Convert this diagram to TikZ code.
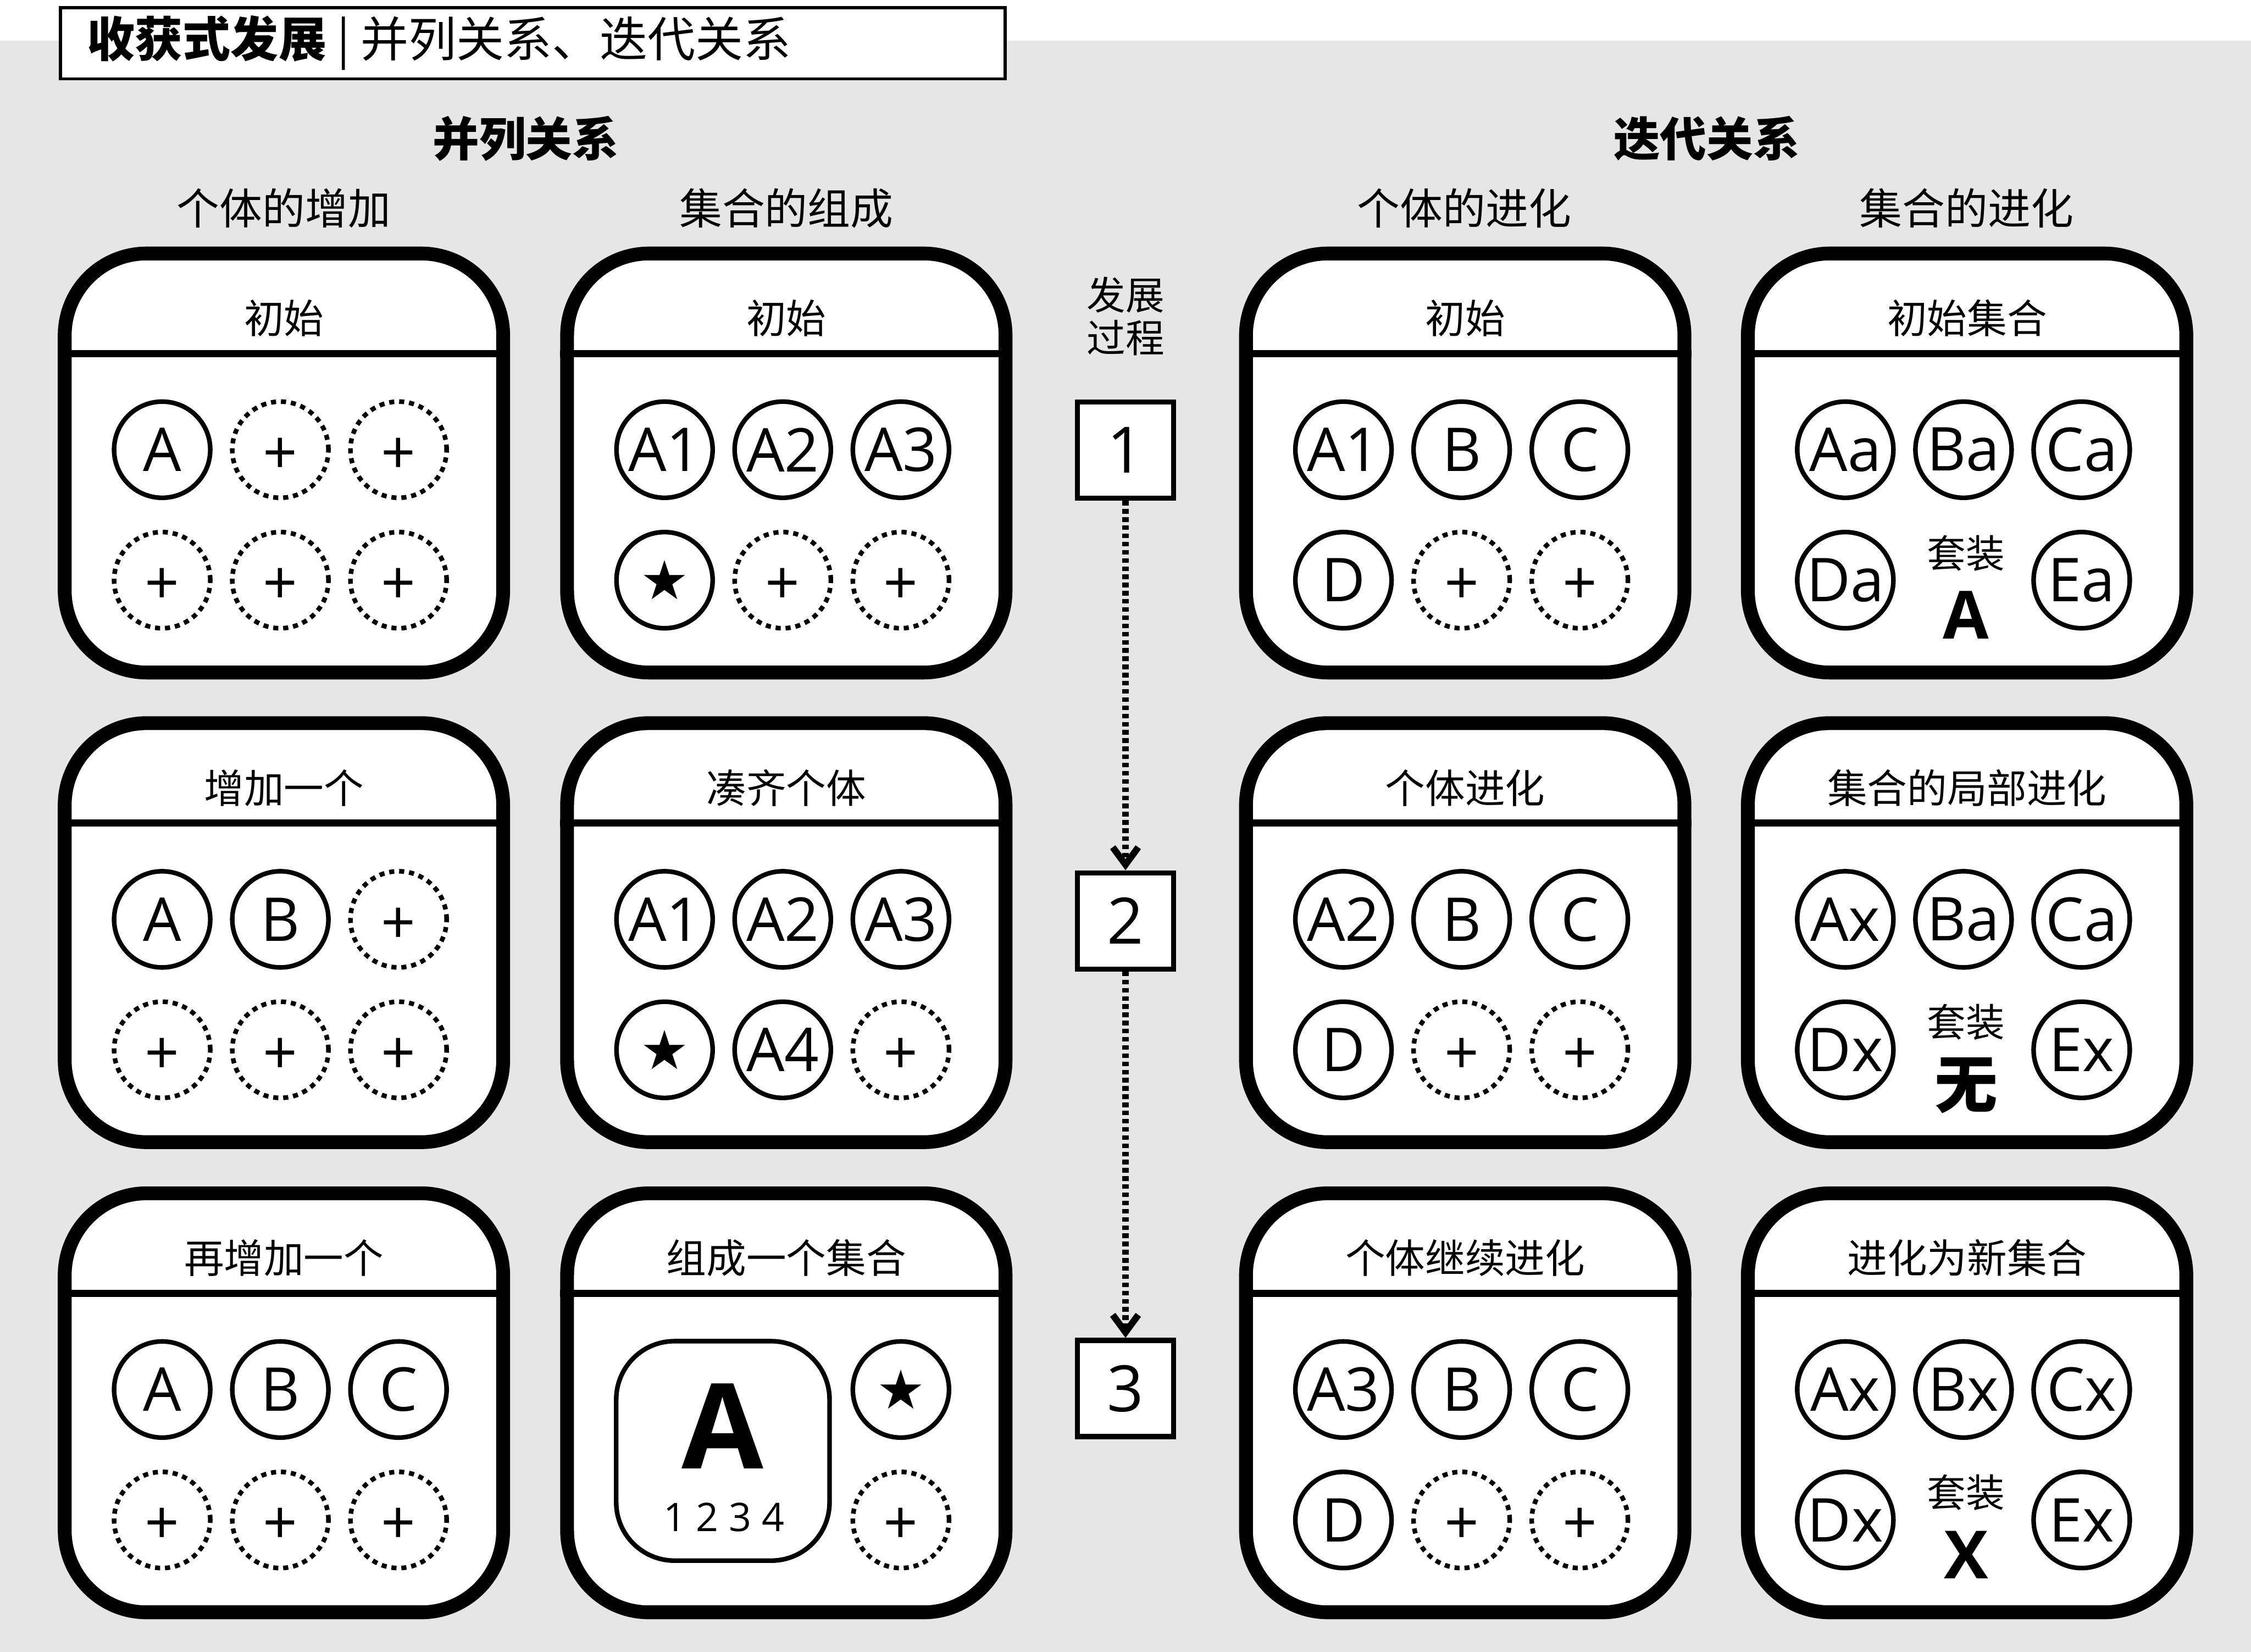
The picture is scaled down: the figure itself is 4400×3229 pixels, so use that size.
\documentclass[tikz,border=0pt]{standalone}
\usepackage{fontspec}
\setmainfont{Open Sans}
\newfontfamily\cjk{Noto Sans CJK SC}
\newfontfamily\symb{DejaVu Sans}
\usepackage{tikz}
\usetikzlibrary{arrows.meta,positioning,calc}
\definecolor{bggray}{HTML}{E6E6E6}

\begin{document}
\begin{tikzpicture}[x=0.1mm, y=-0.1mm,
    card/.style={rectangle, draw=black, line width=2.7mm, rounded corners=16mm, fill=white, minimum width=85.7mm, minimum height=81.9mm, inner sep=0pt},
    hline/.style={line width=1.4mm},
    ttl/.style={inner sep=0pt, font=\cjk\fontsize{22.2pt}{26pt}\selectfont},
    item/.style={circle, draw=black, line width=0.9mm, minimum size=18.8mm, inner sep=0pt, font=\fontsize{33.6pt}{40pt}\selectfont},
    slot/.style={item, dash pattern=on 1mm off 0.95mm, text height=27pt, text depth=0pt},
    star/.style={item, font=\symb\fontsize{30pt}{34pt}\selectfont},
    hdr/.style={inner sep=0pt, font=\cjk\bfseries\fontsize{25.9pt}{30pt}\selectfont},
    subhdr/.style={inner sep=0pt, font=\cjk\fontsize{23.8pt}{28pt}\selectfont},
    stepbox/.style={rectangle, draw=black, line width=1mm, fill=white, minimum size=18.8mm, inner sep=0pt, font=\fontsize{35.6pt}{40pt}\selectfont},
    flow/.style={-{Straight Barb[length=3.4mm, width=5mm]}, line width=1.3mm, dash pattern=on 0.9mm off 0.7mm},
    suit/.style={inner sep=0pt, font=\cjk\fontsize{21.6pt}{26pt}\selectfont},
    suitname/.style={inner sep=0pt, font=\bfseries\fontsize{37pt}{42pt}\selectfont}]

% Canvas: white strip on top, grey below
\useasboundingbox (0,0) rectangle (4400,3229);
\fill[white] (0,0) rectangle (4400,3229);
\fill[bggray] (0,80) rectangle (4400,3229);

% Title bar
\node[rectangle, draw=black, line width=0.6mm, fill=white, minimum width=184.7mm, minimum height=13.9mm] (titlebox) at (1041.5, 84.5) {};
\node[anchor=west, inner sep=0pt, font=\cjk\fontsize{26.6pt}{30pt}\selectfont] (titletext) at (170, 84) {\textbf{收获式发展} | 并列关系、迭代关系};

% Group headings
\node[hdr] (parhdr) at (1028, 271) {并列关系};
\node[hdr] (iterhdr) at (3336, 271) {迭代关系};
\node[subhdr] (sub1) at (555, 407) {个体的增加};
\node[subhdr] (sub2) at (1537, 407) {集合的组成};
\node[subhdr] (sub3) at (2862, 407) {个体的进化};
\node[subhdr] (sub4) at (3844, 407) {集合的进化};

% Middle column: development steps
\node[inner sep=0pt, align=center, font=\cjk\fontsize{21.6pt}{23.9pt}\selectfont] (proc) at (2200, 618) {发展\\过程};
\node[stepbox] (s1) at (2200, 880) {1};
\node[stepbox] (s2) at (2200, 1800) {2};
\node[stepbox] (s3) at (2200, 2714) {3};
\draw[flow] (s1) -- (s2);
\draw[flow] (s2) -- (s3);

% ---- Column 1: individual added ----
\node[card] (k11) at (555, 905) {};
\draw[hline] ([yshift=-20.9mm]k11.north west) -- ([yshift=-20.9mm]k11.north east);
\node[ttl] (k11t) at (555, 622) {初始};
\node[item] (k11a) at (317, 879) {A};
\node[slot] (k11b) at (548, 879) {+};
\node[slot] (k11c) at (779, 879) {+};
\node[slot] (k11d) at (317, 1134) {+};
\node[slot] (k11e) at (548, 1134) {+};
\node[slot] (k11f) at (779, 1134) {+};

\node[card] (k12) at (555, 1823) {};
\draw[hline] ([yshift=-20.9mm]k12.north west) -- ([yshift=-20.9mm]k12.north east);
\node[ttl] (k12t) at (555, 1540) {增加一个};
\node[item] (k12a) at (317, 1797) {A};
\node[item] (k12b) at (548, 1797) {B};
\node[slot] (k12c) at (779, 1797) {+};
\node[slot] (k12d) at (317, 2052) {+};
\node[slot] (k12e) at (548, 2052) {+};
\node[slot] (k12f) at (779, 2052) {+};

\node[card] (k13) at (555, 2742) {};
\draw[hline] ([yshift=-20.9mm]k13.north west) -- ([yshift=-20.9mm]k13.north east);
\node[ttl] (k13t) at (555, 2459) {再增加一个};
\node[item] (k13a) at (317, 2716) {A};
\node[item] (k13b) at (548, 2716) {B};
\node[item] (k13c) at (779, 2716) {C};
\node[slot] (k13d) at (317, 2971) {+};
\node[slot] (k13e) at (548, 2971) {+};
\node[slot] (k13f) at (779, 2971) {+};

% ---- Column 2: set assembled ----
\node[card] (k21) at (1537, 905) {};
\draw[hline] ([yshift=-20.9mm]k21.north west) -- ([yshift=-20.9mm]k21.north east);
\node[ttl] (k21t) at (1537, 622) {初始};
\node[item] (k21a) at (1299, 879) {A1};
\node[item] (k21b) at (1530, 879) {A2};
\node[item] (k21c) at (1761, 879) {A3};
\node[star] (k21d) at (1299, 1134) {★};
\node[slot] (k21e) at (1530, 1134) {+};
\node[slot] (k21f) at (1761, 1134) {+};

\node[card] (k22) at (1537, 1823) {};
\draw[hline] ([yshift=-20.9mm]k22.north west) -- ([yshift=-20.9mm]k22.north east);
\node[ttl] (k22t) at (1537, 1540) {凑齐个体};
\node[item] (k22a) at (1299, 1797) {A1};
\node[item] (k22b) at (1530, 1797) {A2};
\node[item] (k22c) at (1761, 1797) {A3};
\node[star] (k22d) at (1299, 2052) {★};
\node[item] (k22e) at (1530, 2052) {A4};
\node[slot] (k22f) at (1761, 2052) {+};

\node[card] (k23) at (1537, 2742) {};
\draw[hline] ([yshift=-20.9mm]k23.north west) -- ([yshift=-20.9mm]k23.north east);
\node[ttl] (k23t) at (1537, 2459) {组成一个集合};
\node[rectangle, draw=black, line width=0.9mm, rounded corners=11.4mm, minimum width=41.7mm, minimum height=42.9mm] (bundle) at (1413, 2836) {};
\node[inner sep=0pt, font=\bfseries\fontsize{66pt}{70pt}\selectfont] (bundleA) at (1413, 2788) {A};
\node[inner sep=0pt, font=\fontsize{21.9pt}{26pt}\selectfont] (bundlenum) at (1415, 2966) {1 2 3 4};
\node[star] (k23d) at (1761, 2716) {★};
\node[slot] (k23f) at (1761, 2971) {+};

% ---- Column 3: individual evolves ----
\node[card] (k31) at (2864, 905) {};
\draw[hline] ([yshift=-20.9mm]k31.north west) -- ([yshift=-20.9mm]k31.north east);
\node[ttl] (k31t) at (2864, 622) {初始};
\node[item] (k31a) at (2626, 879) {A1};
\node[item] (k31b) at (2857, 879) {B};
\node[item] (k31c) at (3088, 879) {C};
\node[item] (k31d) at (2626, 1134) {D};
\node[slot] (k31e) at (2857, 1134) {+};
\node[slot] (k31f) at (3088, 1134) {+};

\node[card] (k32) at (2864, 1823) {};
\draw[hline] ([yshift=-20.9mm]k32.north west) -- ([yshift=-20.9mm]k32.north east);
\node[ttl] (k32t) at (2864, 1540) {个体进化};
\node[item] (k32a) at (2626, 1797) {A2};
\node[item] (k32b) at (2857, 1797) {B};
\node[item] (k32c) at (3088, 1797) {C};
\node[item] (k32d) at (2626, 2052) {D};
\node[slot] (k32e) at (2857, 2052) {+};
\node[slot] (k32f) at (3088, 2052) {+};

\node[card] (k33) at (2864, 2742) {};
\draw[hline] ([yshift=-20.9mm]k33.north west) -- ([yshift=-20.9mm]k33.north east);
\node[ttl] (k33t) at (2864, 2459) {个体继续进化};
\node[item] (k33a) at (2626, 2716) {A3};
\node[item] (k33b) at (2857, 2716) {B};
\node[item] (k33c) at (3088, 2716) {C};
\node[item] (k33d) at (2626, 2971) {D};
\node[slot] (k33e) at (2857, 2971) {+};
\node[slot] (k33f) at (3088, 2971) {+};

% ---- Column 4: set evolves ----
\node[card] (k41) at (3845, 905) {};
\draw[hline] ([yshift=-20.9mm]k41.north west) -- ([yshift=-20.9mm]k41.north east);
\node[ttl] (k41t) at (3845, 622) {初始集合};
\node[item] (k41a) at (3607, 879) {Aa};
\node[item] (k41b) at (3838, 879) {Ba};
\node[item] (k41c) at (4069, 879) {Ca};
\node[item] (k41d) at (3607, 1134) {Da};
\node[item] (k41e) at (4069, 1134) {Ea};
\node[suit] (k41s) at (3843, 1081) {套装};
\node[suitname] (k41n) at (3843, 1202) {A};

\node[card] (k42) at (3845, 1823) {};
\draw[hline] ([yshift=-20.9mm]k42.north west) -- ([yshift=-20.9mm]k42.north east);
\node[ttl] (k42t) at (3845, 1540) {集合的局部进化};
\node[item] (k42a) at (3607, 1797) {Ax};
\node[item] (k42b) at (3838, 1797) {Ba};
\node[item] (k42c) at (4069, 1797) {Ca};
\node[item] (k42d) at (3607, 2052) {Dx};
\node[item] (k42e) at (4069, 2052) {Ex};
\node[suit] (k42s) at (3843, 1998) {套装};
\node[inner sep=0pt, font=\cjk\bfseries\fontsize{35pt}{40pt}\selectfont] (k42n) at (3843, 2122) {无};

\node[card] (k43) at (3845, 2742) {};
\draw[hline] ([yshift=-20.9mm]k43.north west) -- ([yshift=-20.9mm]k43.north east);
\node[ttl] (k43t) at (3845, 2459) {进化为新集合};
\node[item] (k43a) at (3607, 2716) {Ax};
\node[item] (k43b) at (3838, 2716) {Bx};
\node[item] (k43c) at (4069, 2716) {Cx};
\node[item] (k43d) at (3607, 2971) {Dx};
\node[item] (k43e) at (4069, 2971) {Ex};
\node[suit] (k43s) at (3843, 2917) {套装};
\node[suitname] (k43n) at (3843, 3039) {X};

\end{tikzpicture}
\end{document}
